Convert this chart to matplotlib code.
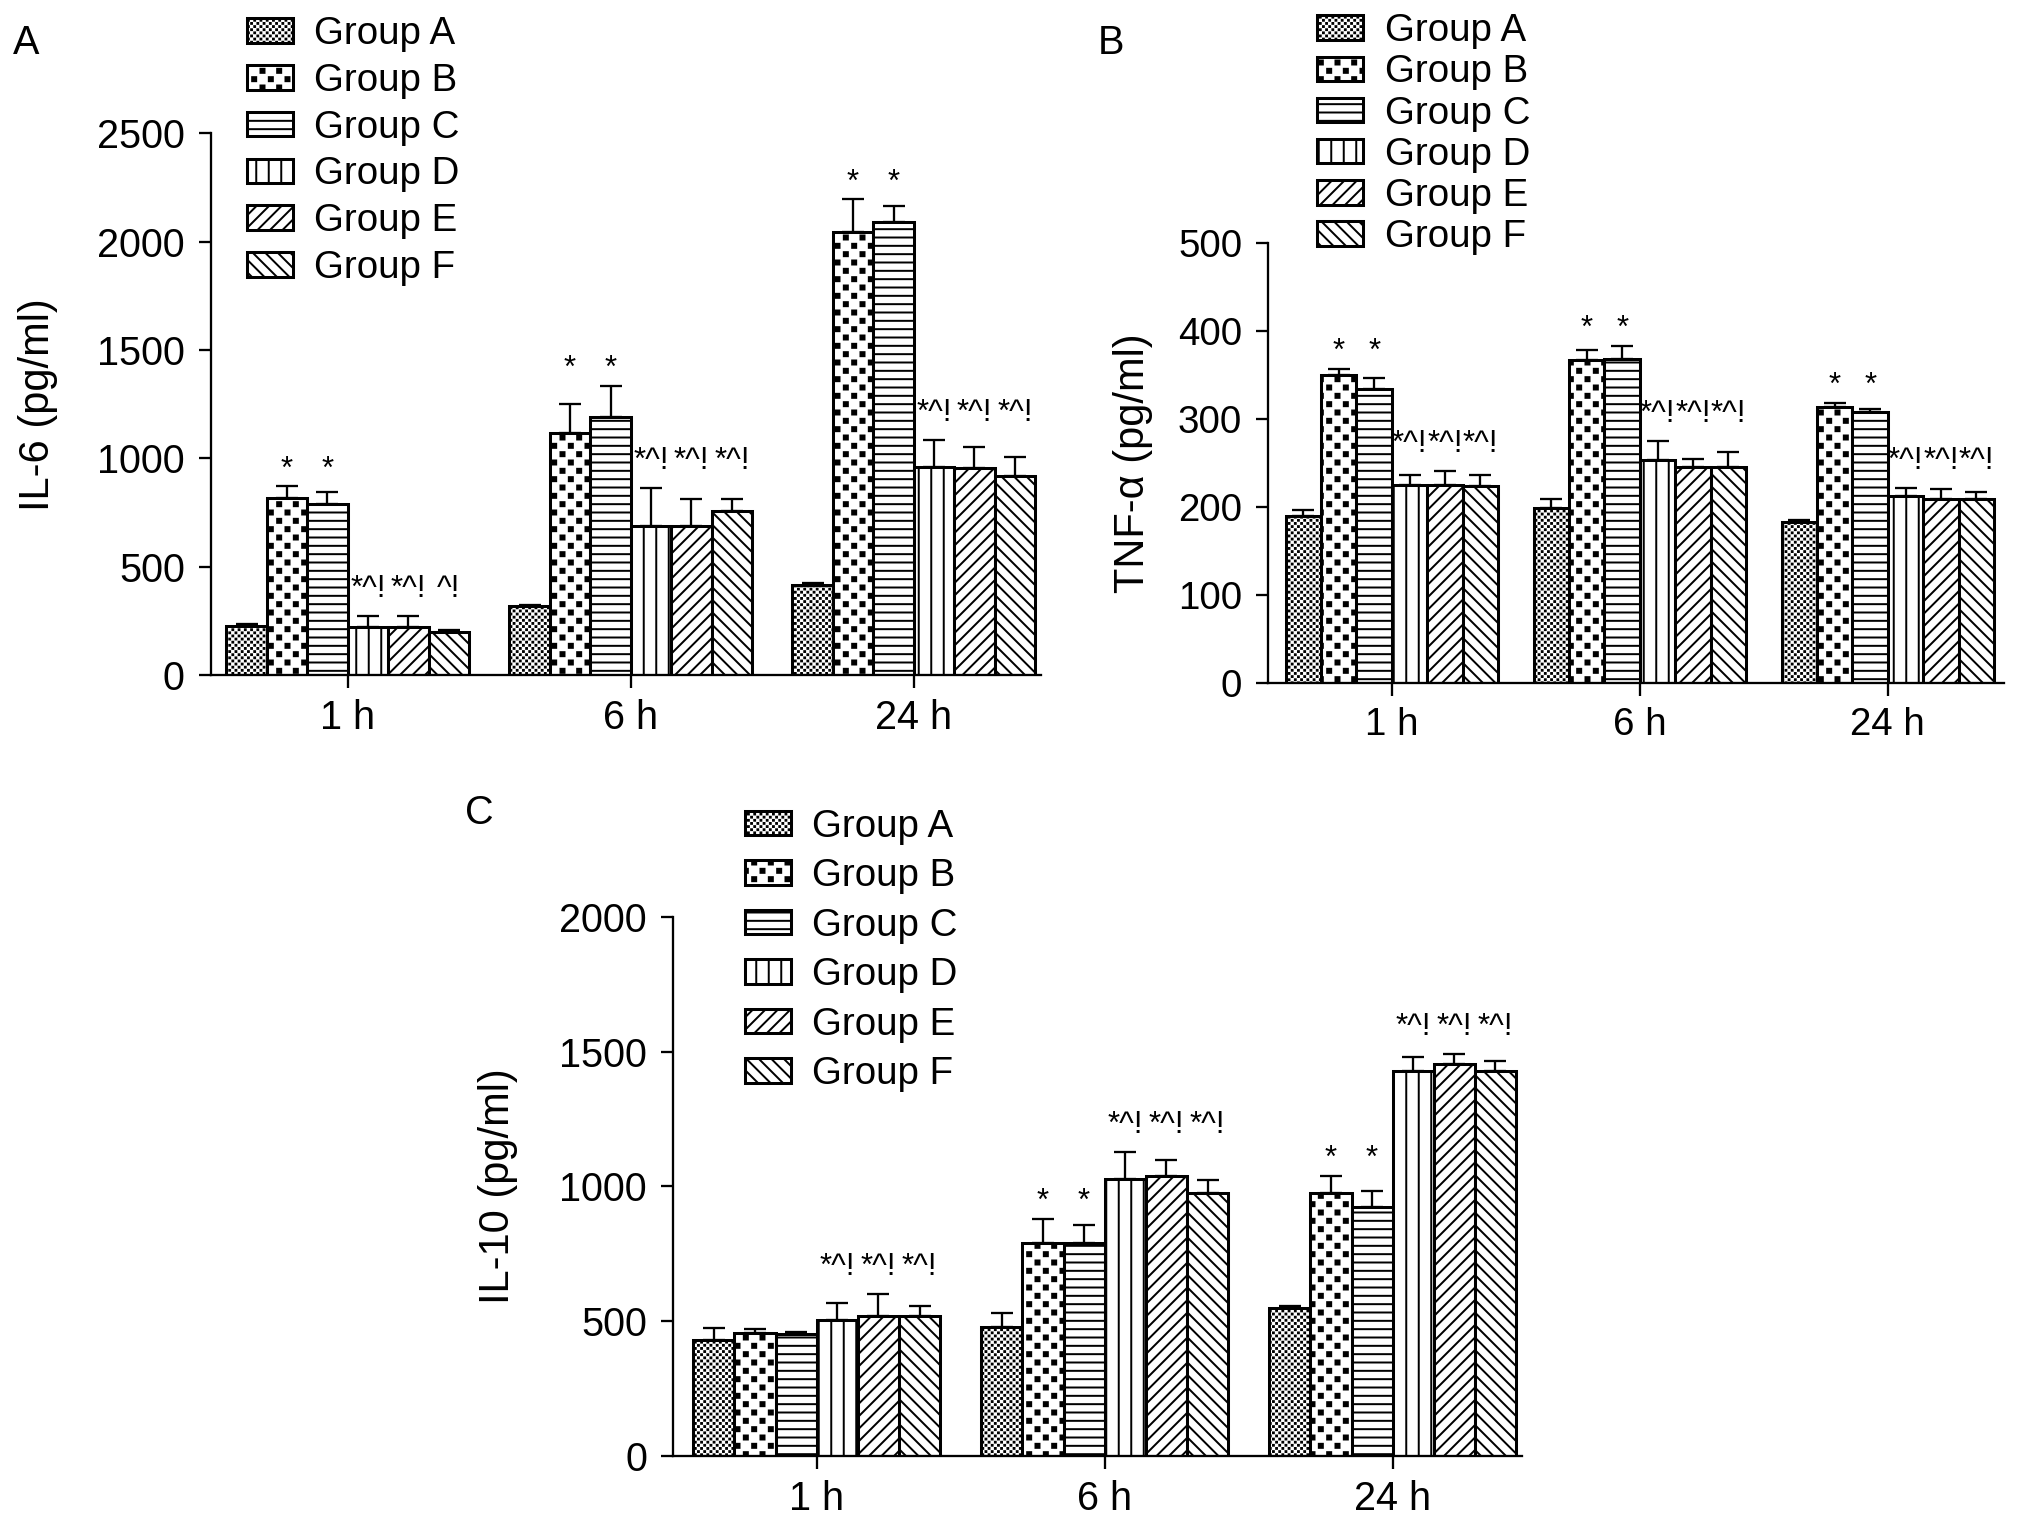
import numpy as np
import matplotlib
matplotlib.use('Agg')
import matplotlib.pyplot as plt
import matplotlib.hatch as mhatch
from matplotlib.path import Path

DPI = 150
plt.rcParams['font.family'] = ['Liberation Sans', 'DejaVu Sans']
plt.rcParams['hatch.linewidth'] = 0.95

# ---- data ----
times = ['1 h', '6 h', '24 h']
groups = ['Group A', 'Group B', 'Group C', 'Group D', 'Group E', 'Group F']

# one row per group, one column per time point
il6_mean = [[228, 318, 418],
            [816, 1118, 2046],
            [789, 1190, 2091],
            [224, 689, 962],
            [224, 689, 957],
            [201, 756, 921]]
il6_err = [[7, 6, 7],
           [56, 134, 150],
           [56, 145, 74],
           [49, 176, 123],
           [49, 123, 98],
           [9, 56, 85]]

tnf_mean = [[190, 199, 183],
            [350, 367, 313],
            [334, 368, 308],
            [225, 253, 212],
            [225, 245, 209],
            [224, 245, 209]]
tnf_err = [[7, 10, 2],
           [7, 11, 5],
           [12, 15, 3],
           [11, 22, 10],
           [16, 9, 11],
           [12, 18, 8]]

il10_mean = [[429, 478, 547],
             [456, 788, 976],
             [453, 788, 922],
             [505, 1026, 1427],
             [520, 1040, 1456],
             [520, 976, 1427]]
il10_err = [[45, 51, 8],
            [15, 92, 64],
            [5, 70, 60],
            [61, 100, 55],
            [82, 59, 37],
            [37, 46, 38]]

# significance marks, one row per time point
il6_marks = [['', '*', '*', '*^!', '*^!', '^!'],
             ['', '*', '*', '*^!', '*^!', '*^!'],
             ['', '*', '*', '*^!', '*^!', '*^!']]
tnf_marks = [['', '*', '*', '*^!', '*^!', '*^!'],
             ['', '*', '*', '*^!', '*^!', '*^!'],
             ['', '*', '*', '*^!', '*^!', '*^!']]
il10_marks = [['', '', '', '*^!', '*^!', '*^!'],
              ['', '*', '*', '*^!', '*^!', '*^!'],
              ['', '*', '*', '*^!', '*^!', '*^!']]


# checkerboard hatches, matplotlib has none built in
# '#' -> coarse board with small squares, '&' -> fine board
class CheckerHatch(mhatch.HatchPatternBase):
    def __init__(self, hatch, density):
        self.n = (hatch.count('#') + hatch.count('&')) * density
        self.fill = 0.72 if '#' in hatch else 0.9
        self.num_vertices = (self.n * self.n // 2) * 5

    def set_vertices_and_codes(self, vertices, codes):
        s = 1.0 / self.n
        # the hatch outline adds its own width, so shrink the square
        stroke = plt.rcParams['hatch.linewidth'] / 72
        side = max(self.fill * s - stroke, 0.0005)
        pad = (s - side) / 2
        k = 0
        for i in range(self.n):
            for j in range(self.n):
                if (i + j) % 2:
                    continue
                x0, y0 = i * s + pad, j * s + pad
                vertices[k:k + 5] = [[x0, y0], [x0 + side, y0], [x0 + side, y0 + side],
                                     [x0, y0 + side], [x0, y0]]
                codes[k:k + 5] = [Path.MOVETO, Path.LINETO, Path.LINETO,
                                  Path.LINETO, Path.CLOSEPOLY]
                k += 5


mhatch._hatch_types.append(CheckerHatch)

hatches = ['&' * 8, '###', '---', '||', '////', '\\\\\\\\']
W = 1 / 7


def draw_panel(ax, means, errs, marks, ymax, ystep, ylabel, xlim, label_x, tick_size):
    x = np.arange(len(times))
    means = np.array(means)
    errs = np.array(errs)
    tops = means + errs
    for j in range(len(groups)):
        xs = x + (j - 2.5) * W
        ax.bar(xs, means[j], W, color='white', edgecolor='black', linewidth=1.45,
               hatch=hatches[j], label=groups[j], zorder=2)
        ax.errorbar(xs, means[j], yerr=[np.zeros(len(x)), errs[j]], fmt='none',
                    ecolor='black', elinewidth=1.1, capsize=5.5, capthick=1.1, zorder=3)

    for i in range(len(times)):
        for j in range(len(groups)):
            text = marks[i][j]
            if not text:
                continue
            if text == '*':
                y = tops[[1, 2], i].max()
                off = 8
            else:
                y = tops[[3, 4, 5], i].max()
                off = 13
            ax.annotate(text, (x[i] + (j - 2.5) * W, y), xytext=(0, off),
                        textcoords='offset points', ha='center', va='center', fontsize=15)

    ax.set_xlim(*xlim)
    ax.set_ylim(0, ymax)
    ax.set_yticks(np.arange(0, ymax + 1, ystep))
    ax.set_xticks(x)
    ax.set_xticklabels(times)
    for side in ['top', 'right']:
        ax.spines[side].set_visible(False)
    for side in ['left', 'bottom']:
        ax.spines[side].set_linewidth(1.1)
    ax.tick_params(axis='y', length=5.6, width=1.1, pad=7, labelsize=tick_size)
    ax.tick_params(axis='x', length=6.2, width=1.1, pad=5.3, labelsize=tick_size)
    ax.set_ylabel(ylabel, fontsize=20)
    ax.yaxis.set_label_coords(label_x, 0.5)


fig = plt.figure(figsize=(2031 / DPI, 1533 / DPI), dpi=DPI)

ax_a = fig.add_axes([0.1039, 0.5595, 0.4087, 0.3536])
draw_panel(ax_a, il6_mean, il6_err, il6_marks, 2500, 500, 'IL-6 (pg/ml)',
           (-0.483, 2.45), -0.184, 19)

ax_b = fig.add_axes([0.6245, 0.5543, 0.3624, 0.2874])
draw_panel(ax_b, tnf_mean, tnf_err, tnf_marks, 500, 100, 'TNF-α (pg/ml)',
           (-0.498, 2.47), -0.157, 18.5)

ax_c = fig.add_axes([0.3315, 0.0504, 0.418, 0.3514])
draw_panel(ax_c, il10_mean, il10_err, il10_marks, 2000, 500, 'IL-10 (pg/ml)',
           (-0.498, 2.45), -0.183, 19)

legend_kw = dict(loc='upper left', bbox_transform=fig.transFigure, frameon=False,
                 borderpad=0, borderaxespad=0, fontsize=18.5, handlelength=1.2,
                 handleheight=0.6, handletextpad=0.55)
ax_a.legend(bbox_to_anchor=(0.1215, 0.9895), labelspacing=0.28, **legend_kw)
ax_b.legend(bbox_to_anchor=(0.6485, 0.9914), labelspacing=0.135, **legend_kw)
ax_c.legend(bbox_to_anchor=(0.3667, 0.4725), labelspacing=0.35, **legend_kw)

fig.text(26 / 2031, 1 - 43 / 1533, 'A', fontsize=19, ha='center', va='center')
fig.text(1111 / 2031, 1 - 43 / 1533, 'B', fontsize=19, ha='center', va='center')
fig.text(479 / 2031, 1 - 813 / 1533, 'C', fontsize=19, ha='center', va='center')

fig.savefig('out.png', dpi=DPI)
